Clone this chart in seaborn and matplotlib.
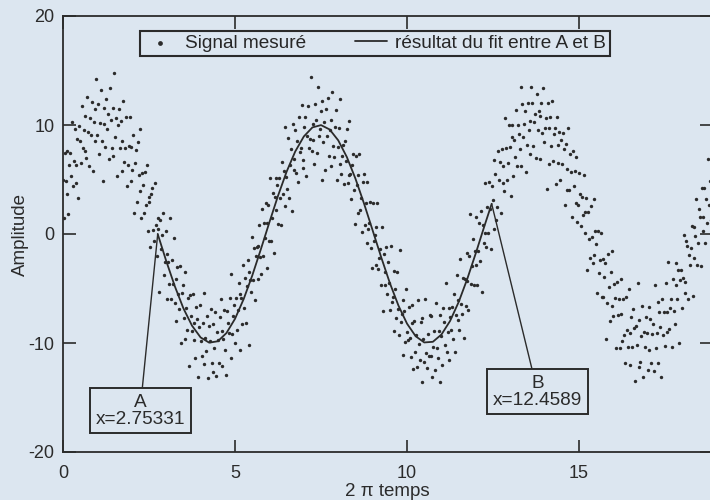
import numpy as np
import pandas as pd
import matplotlib
matplotlib.use('Agg')
import matplotlib.pyplot as plt
import seaborn as sns

# Signal mesuré: un échantillon tous les pi/120
pas_temps = np.pi / 120
signal = [
    5.0, 1.5, 7.4, 4.9, 3.7, 7.6, 1.8, 6.3, 7.4, 5.3, 10.3, 4.4, 6.7, 9.6, 4.7, 6.3, 8.7, 3.3, 9.9, 8.5, 6.5, 11.7, 7.9, 9.5,
    7.6, 10.8, 7.0, 12.6, 9.4, 6.2, 10.6, 9.1, 12.1, 5.8, 10.3, 11.5, 8.5, 14.2, 9.1, 11.9, 7.3, 10.2, 13.2, 8.5, 4.9, 11.6, 10.1, 8.0,
    12.4, 9.6, 11.0, 6.9, 13.4, 10.5, 7.9, 11.6, 7.2, 14.8, 8.9, 10.6, 5.3, 10.0, 11.5, 7.9, 10.4, 5.8, 8.5, 12.2, 6.6, 7.9, 10.7, 4.4,
    6.3, 8.1, 10.7, 4.9, 8.0, 5.9, 9.1, 1.9, 6.5, 7.7, 2.9, 8.4, 5.4, 3.9, 9.6, 1.5, 5.6, 4.5, 1.9, 5.7, 2.7, 6.3, 0.3, 3.4,
    2.9, -1.2, 3.7, 4.2, 0.4, -0.6, 4.7, 0.8, -2.0, 1.5, 0.5, -5.3, 1.3, -1.4, -0.1, 1.9, -3.8, -2.6, 0.3, -6.0, -1.8, -2.6, -4.6, 1.5,
    -6.0, -2.4, -4.6, -0.4, -6.3, -4.1, -8.0, -3.0, -5.5, -6.9, -2.9, -10.0, -5.4, -4.7, -7.7, -9.6, -3.5, -6.8, -8.8, -5.9, -12.1, -5.6, -7.5, -8.9,
    -5.5, -9.7, -8.2, -11.4, -6.7, -7.8, -13.1, -8.5, -6.5, -9.8, -11.2, -8.2, -5.4, -11.9, -9.5, -10.7, -7.5, -13.2, -8.4, -9.8, -6.9, -11.8, -12.7, -8.3,
    -10.5, -7.2, -13.0, -9.0, -9.7, -11.8, -7.6, -6.0, -12.1, -8.9, -9.6, -7.0, -10.6, -12.9, -7.1, -8.2, -9.1, -5.9, -11.4, -3.7, -9.2, -7.5, -6.5, -10.0,
    -5.9, -8.8, -7.0, -4.5, -10.6, -5.5, -5.9, -8.3, -2.8, -6.8, -4.0, -8.2, -4.8, -2.4, -10.2, -3.5, -4.2, -5.3, -0.3, -4.2, -1.3, -6.1, -2.0, -1.2,
    -4.1, -1.1, 0.8, -2.1, -3.7, 2.3, -2.0, 1.0, -0.4, 2.8, -3.1, 1.0, 2.7, -0.6, 5.1, -0.6, 1.5, 3.8, -1.7, 3.4, 5.1, 2.2, 4.5, 0.9,
    5.1, 3.3, 0.8, 6.6, 3.7, 5.8, 2.6, 9.8, 5.2, 4.1, 8.8, 3.3, 6.3, 7.8, 2.1, 10.1, 5.9, 6.9, 9.5, 5.6, 8.5, 4.8, 10.7, 7.5,
    7.9, 11.8, 6.8, 6.1, 9.8, 10.7, 5.3, 9.0, 11.7, 7.9, 8.7, 14.4, 7.6, 10.1, 8.6, 6.4, 11.9, 10.5, 7.4, 13.5, 9.0, 9.6, 11.3, 5.0,
    12.2, 8.4, 10.3, 5.9, 11.5, 9.0, 12.5, 7.2, 9.5, 10.5, 6.2, 13.0, 8.1, 7.1, 9.8, 11.4, 5.0, 8.0, 9.7, 6.4, 12.4, 5.5, 7.2, 8.2,
    4.6, 8.5, 6.7, 9.6, 4.7, 5.4, 10.4, 5.5, 3.2, 6.3, 7.3, 4.0, 0.9, 7.2, 4.5, 5.4, 1.9, 7.3, 2.2, 3.3, 0.2, 4.8, 5.5, 0.8,
    2.8, -0.8, 4.8, 0.5, 1.0, 2.9, -1.3, -3.1, 2.8, -0.6, -0.1, -2.8, 0.6, 2.8, -3.2, -2.2, -1.4, -4.7, 0.6, -7.1, -1.8, -3.5, -4.7, -1.2,
    -5.5, -2.6, -4.5, -7.0, -1.1, -6.2, -5.8, -3.4, -8.9, -5.0, -7.7, -3.5, -6.9, -9.3, -1.5, -8.1, -7.3, -6.1, -11.1, -7.1, -9.9, -5.0, -9.0, -9.7,
    -6.7, -9.5, -11.3, -8.2, -6.5, -12.4, -8.0, -10.8, -9.3, -12.2, -6.1, -10.1, -11.6, -8.1, -13.6, -7.7, -9.6, -11.7, -6.0, -10.9, -12.3, -9.2, -11.2, -7.4,
    -11.2, -7.5, -13.1, -10.4, -8.9, -12.5, -6.3, -10.5, -11.4, -8.9, -13.6, -7.4, -9.4, -12.0, -6.8, -8.1, -10.2, -4.5, -10.8, -9.0, -6.8, -11.6, -7.6, -8.8,
    -6.7, -9.6, -5.5, -10.8, -7.4, -3.8, -7.9, -6.1, -8.8, -2.3, -6.4, -7.3, -4.0, -9.5, -4.1, -6.6, -1.7, -4.3, -7.0, -2.0, 1.8, -4.6, -2.9, -0.5,
    -4.7, -1.6, -2.8, 1.6, -4.7, -1.6, 1.0, -2.5, 2.1, -5.3, 0.8, -0.8, 4.7, 0.1, -1.2, 2.5, 0.1, 4.8, 2.3, -1.4, 4.4, 3.1, 0.5, 6.8,
    5.5, 1.3, 2.5, 7.6, 5.0, 6.6, 1.9, 7.8, 4.7, 6.2, 3.9, 10.6, 7.9, 5.0, 6.5, 10.0, 8.0, 3.5, 8.9, 10.0, 5.3, 8.6, 7.1, 11.4,
    6.2, 10.0, 9.2, 7.8, 13.5, 6.2, 11.9, 8.9, 10.1, 11.3, 5.7, 8.2, 12.0, 9.5, 10.4, 7.3, 13.5, 12.0, 8.1, 10.3, 11.0, 7.0, 12.8, 9.5,
    11.3, 10.8, 6.9, 12.0, 9.3, 13.4, 8.4, 9.7, 10.6, 4.1, 12.0, 9.7, 6.4, 10.7, 8.1, 12.2, 6.7, 9.2, 9.7, 4.6, 10.7, 8.2, 6.5, 9.4,
    5.0, 8.6, 6.4, 9.3, 7.8, 2.7, 8.3, 6.0, 4.0, 9.7, 4.0, 7.3, 5.7, 1.6, 7.6, 4.4, 5.8, 2.8, 7.1, 1.1, 2.7, 5.6, 3.7, 0.7,
    3.4, 1.7, 5.4, 0.1, 2.0, 3.3, -3.3, 2.0, -0.5, -2.2, 2.6, -0.3, -2.7, 3.2, -1.9, 0.3, -0.9, -5.4, 0.3, -3.6, -2.4, 0.1, -5.8, -2.3,
    -5.8, -3.9, -2.7, -9.6, -6.3, -1.8, -4.9, -8.0, -3.5, -6.6, -1.6, -7.5, -4.6, -5.9, -10.5, -4.4, -7.4, -6.0, -10.5, -7.3, -4.1, -9.8, -6.0, -9.3,
    -11.8, -5.8, -8.8, -10.4, -5.0, -9.1, -12.0, -7.6, -10.4, -6.9, -8.6, -13.5, -8.4, -10.2, -4.5, -12.2, -7.9, -11.7, -9.4, -6.6, -13.1, -9.0, -10.4, -7.6,
    -9.1, -12.5, -6.7, -10.6, -7.8, -11.8, -9.2, -8.3, -12.6, -4.7, -10.5, -9.1, -6.2, -11.8, -7.2, -8.5, -13.1, -6.0, -9.3, -7.2, -10.3, -4.5, -7.2, -9.0,
    -2.6, -8.7, -6.8, -6.0, -10.4, -4.1, -7.1, -8.3, -2.7, -4.7, -6.0, -3.3, -10.0, -4.2, -3.3, -6.8, -4.0, -0.1, -5.4, -4.4, -0.6, -1.1, -6.0, -1.9,
    -2.8, -1.3, 0.7, -5.7, 0.6, -2.2, -0.2, 3.2, -2.8, -0.8, 2.3, 1.6, -2.9, 4.2, 0.3, 1.6, 4.2, -0.8, 3.2, 1.0, 6.9, 2.7, 4.9, 1.3,
]
temps = pas_temps * np.arange(len(signal))

# courbe du fit entre A et B
fit_x = [2.7533, 3.0, 3.25, 3.5, 3.75, 4.0, 4.25, 4.5, 4.75, 5.0, 5.25, 5.5, 5.75, 6.0,
         6.25, 6.5, 6.75, 7.0, 7.25, 7.5, 7.75, 8.0, 8.25, 8.5, 8.75, 9.0, 9.25, 9.5,
         9.75, 10.0, 10.25, 10.5, 10.75, 11.0, 11.25, 11.5, 11.75, 12.0, 12.25, 12.4589]
fit_y = [0.0, -2.47, -4.79, -6.82, -8.41, -9.49, -9.97, -9.84, -9.09, -7.78, -5.98, -3.82, -1.41, 1.08,
         3.51, 5.72, 7.57, 8.95, 9.78, 9.99, 9.59, 8.59, 7.06, 5.08, 2.79, 0.33, -2.15, -4.50,
         -6.57, -8.23, -9.38, -9.95, -9.89, -9.22, -7.98, -6.24, -4.12, -1.74, 0.75, 2.77]

point_A = (2.75331, 0.0)
point_B = (12.4589, 2.77)
label_A = "A\nx=2.75331"
label_B = "B\nx=12.4589"

x_ticks = [0, 5, 10, 15]
y_ticks = [-20, -10, 0, 10, 20]

fond = '#dce6f0'
encre = '#2b2b2b'

sns.set_theme(style='ticks')
plt.rcParams['font.family'] = ['Liberation Sans', 'DejaVu Sans']
plt.rcParams['axes.facecolor'] = fond
plt.rcParams['figure.facecolor'] = fond
plt.rcParams['axes.unicode_minus'] = False

fig = plt.figure(figsize=(7.1, 5.0), dpi=100)
ax = fig.add_axes([0.0887, 0.096, 0.9135, 0.872])

df = pd.DataFrame({'temps': temps, 'signal': signal})
sns.scatterplot(data=df, x='temps', y='signal', ax=ax, s=6, color=encre,
                linewidth=0, label='Signal mesuré')
sns.lineplot(x=fit_x, y=fit_y, ax=ax, color=encre, lw=1.3, sort=False,
             label='résultat du fit entre A et B')

ax.set_xlim(0, 6 * np.pi)
ax.set_ylim(-20, 20)
ax.set_xticks(x_ticks)
ax.set_yticks(y_ticks)
ax.tick_params(direction='in', length=9, width=1.2, top=True, right=True,
               labelsize=13, colors=encre)
ax.tick_params(axis='x', pad=9)
ax.tick_params(axis='y', pad=6)
for sp in ax.spines.values():
    sp.set_color(encre)
    sp.set_linewidth(1.3)

ax.set_xlabel('2 π temps', fontsize=13.5, color=encre, labelpad=1)
ax.set_ylabel('Amplitude', fontsize=13.5, color=encre)
ax.yaxis.set_label_coords(-0.052, 0.5)

leg = ax.legend(loc='upper left', bbox_to_anchor=(0.119, 0.966), ncol=2,
                fontsize=13.7, frameon=True, fancybox=False, borderaxespad=0,
                borderpad=0.2, handlelength=1.7, handletextpad=0.45,
                columnspacing=2.55, scatterpoints=1, markerscale=1.4)
leg.get_frame().set_edgecolor(encre)
leg.get_frame().set_linewidth(1.5)
leg.get_frame().set_facecolor(fond)
leg.get_frame().set_alpha(1)

boite = dict(boxstyle='square,pad=0.3', fc=fond, ec=encre, lw=1.4)
fleche = dict(arrowstyle='-', color=encre, lw=1.0, shrinkA=0, shrinkB=0)
ax.annotate(label_A, xy=point_A, xytext=(2.24, -16.2), textcoords='data',
            ha='center', va='center', fontsize=13.7, color=encre,
            linespacing=1.0, bbox=boite, arrowprops=fleche)
ax.annotate(label_B, xy=point_B, xytext=(13.79, -14.45), textcoords='data',
            ha='center', va='center', fontsize=13.7, color=encre,
            linespacing=1.0, bbox=boite, arrowprops=fleche)

fig.savefig('out.png', dpi=100, facecolor=fond)
